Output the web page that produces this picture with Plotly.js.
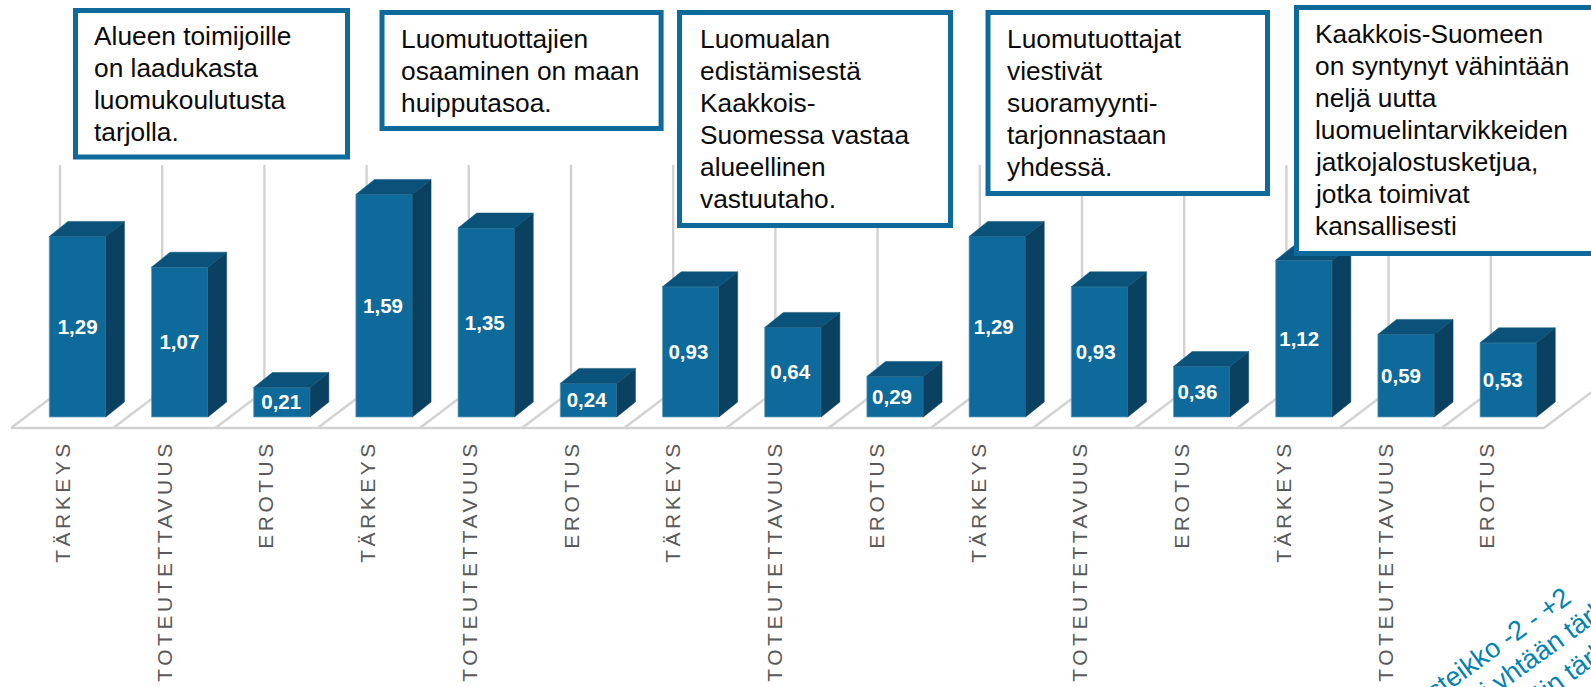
<!DOCTYPE html>
<html>
<head>
<meta charset="utf-8">
<script src="https://cdn.plot.ly/plotly-3.0.1.min.js"></script>
<style>
html,body{margin:0;padding:0;background:#fff;overflow:hidden}
#chart{width:1591px;height:687px}
.xtick text{letter-spacing:3.5px}
</style>
</head>
<body>
<div id="chart"></div>
<script>
// ---- data ----
const categories = ["TÄRKEYS","TOTEUTETTAVUUS","EROTUS","TÄRKEYS","TOTEUTETTAVUUS","EROTUS","TÄRKEYS","TOTEUTETTAVUUS","EROTUS","TÄRKEYS","TOTEUTETTAVUUS","EROTUS","TÄRKEYS","TOTEUTETTAVUUS","EROTUS"];
const values = [1.29,1.07,0.21,1.59,1.35,0.24,0.93,0.64,0.29,1.29,0.93,0.36,1.12,0.59,0.53];
const boxLines = [
  ["Alueen toimijoille","on laadukasta","luomukoulutusta","tarjolla."],
  ["Luomutuottajien","osaaminen on maan","huipputasoa."],
  ["Luomualan","edistämisestä","Kaakkois-","Suomessa vastaa","alueellinen","vastuutaho."],
  ["Luomutuottajat","viestivät","suoramyynti-","tarjonnastaan","yhdessä."],
  ["Kaakkois-Suomeen","on syntynyt vähintään","neljä uutta","luomuelintarvikkeiden","jatkojalostusketjua,","jotka toimivat","kansallisesti"]
];
const noteLines = ["Asteikko -2 - +2","-2 = ei yhtään tärkeä","+2 = erittäin tärkeä"];

// ---- layout geometry (pixels) ----
const W=1591,H=687,BOTTOM=432,FLOOR=428,ZERO=417,PXY=140,PXX=102.2,TICK0=61;
const boxRects=[[73,8,350,159.5],[379.5,10,663.6,131],[677,10,953,228],[985.5,10,1270,196],[1294,5,1610,256]];
const boxText=[[93,45],[400,48],[699,48],[1005.5,48],[1314,42.7]];
const notePos=[[1491.4,648.9],[1527.6,661.1],[1537,696]];
const PITCH=32, BLUE='#0D6A9B';
const LABEL0=77.6, LABEL_STEP=101.8, TICK_START=63, TICK_STEP=101.75;

const ux=p=>(p-TICK0)/PXX, uy=p=>(ZERO-p)/PXY;
const px=p=>p/W, py=p=>1-p/BOTTOM;
const idx=categories.map((_,i)=>i);
const OFF=(77.5-TICK0)/PXX, BW=56.5/PXX, DX=18.7/PXX, DY=15/PXY;

function faces(fn){const xs=[],ys=[];values.forEach((v,i)=>{fn(i,v).forEach(p=>{xs.push(p[0]);ys.push(p[1]);});xs.push(null);ys.push(null);});return {xs,ys};}
const side=faces((i,v)=>{const r=i+OFF+BW/2;return [[r,0],[r+DX,DY],[r+DX,v+DY],[r,v],[r,0]];});
const top_=faces((i,v)=>{const l=i+OFF-BW/2,r=l+BW;return [[l,v],[r,v],[r+DX,v+DY],[l+DX,v+DY],[l,v]];});

const traces=[
 {type:'bar',x:idx.map(i=>i+OFF),y:values,width:BW,marker:{color:BLUE,line:{color:'#6e9fbb',width:0.7}},hoverinfo:'skip',showlegend:false},
 {type:'scatter',mode:'lines',x:side.xs,y:side.ys,fill:'toself',fillcolor:'#0A4161',line:{color:'#0A4161',width:0.5},hoverinfo:'skip',showlegend:false},
 {type:'scatter',mode:'lines',x:top_.xs,y:top_.ys,fill:'toself',fillcolor:'#0A5279',line:{color:'#0A5279',width:0.5},hoverinfo:'skip',showlegend:false},
 {type:'scatter',mode:'text',x:idx.map(i=>ux(LABEL0+LABEL_STEP*i)),y:values.map(v=>v/2-2/PXY),text:values.map(v=>v.toFixed(2).replace('.',',')),
  textposition:'middle center',textfont:{family:'"Liberation Sans",Arial,sans-serif',size:20.5,color:'#fff',weight:'bold'},hoverinfo:'skip',showlegend:false}
];

const shapes=[];
const gridCol='#D2D2D2';
for(let i=0;i<=15;i++){
  const fx=11+PXX*i, bx=fx+49;
  shapes.push({type:'line',layer:'below',xref:'x',yref:'y',x0:ux(fx),y0:uy(FLOOR),x1:ux(bx),y1:uy(FLOOR-37),line:{color:gridCol,width:2.4}});
  shapes.push({type:'line',layer:'below',xref:'x',yref:'y',x0:ux(bx),y0:uy(FLOOR-37),x1:ux(bx),y1:uy(165),line:{color:gridCol,width:2.4}});
}
shapes.push({type:'line',layer:'below',xref:'x',yref:'y',x0:ux(11),y0:uy(FLOOR),x1:ux(11+PXX*15),y1:uy(FLOOR),line:{color:gridCol,width:2.6}});
boxRects.forEach(b=>shapes.push({type:'rect',layer:'above',xref:'paper',yref:'paper',x0:px(b[0]+2.5),x1:px(b[2]-2.5),y0:py(b[1]+2.5),y1:py(b[3]-2.5),fillcolor:'#fff',line:{color:BLUE,width:5}}));

const annotations=[];
boxLines.forEach((lines,b)=>lines.forEach((t,k)=>annotations.push({
  xref:'paper',yref:'paper',x:px(boxText[b][0]),y:py(boxText[b][1]+PITCH*k-9),xanchor:'left',yanchor:'middle',showarrow:false,
  text:t,borderpad:0,font:{family:'"Liberation Sans",Arial,sans-serif',size:26.3,color:'#0a0a0a'}})));
noteLines.forEach((t,k)=>annotations.push({
  xref:'paper',yref:'paper',x:px(notePos[k][0]),y:py(notePos[k][1]),xanchor:'center',yanchor:'middle',showarrow:false,textangle:-36,
  text:t,borderpad:0,font:{family:'"Liberation Sans",Arial,sans-serif',size:27,color:'#0083B3'}}));

const layout={
  width:W,height:H,margin:{l:0,r:0,t:0,b:H-BOTTOM,pad:0},paper_bgcolor:'#fff',plot_bgcolor:'rgba(0,0,0,0)',
  showlegend:false,bargap:0,
  xaxis:{type:'linear',range:[ux(0),ux(W)],tickmode:'array',tickvals:idx.map(i=>ux(TICK_START+TICK_STEP*i)),ticktext:categories,tickangle:-90,ticks:'',ticklabelstandoff:3,
    showgrid:false,zeroline:false,showline:false,automargin:false,fixedrange:true,
    tickfont:{family:'"Liberation Sans",Arial,sans-serif',size:21,color:'#595959'}},
  yaxis:{type:'linear',range:[uy(BOTTOM),uy(0)],showticklabels:false,ticks:'',showgrid:false,zeroline:false,showline:false,automargin:false,fixedrange:true},
  shapes,annotations
};
Plotly.newPlot('chart',traces,layout,{displayModeBar:false,staticPlot:true});
</script>
</body>
</html>
